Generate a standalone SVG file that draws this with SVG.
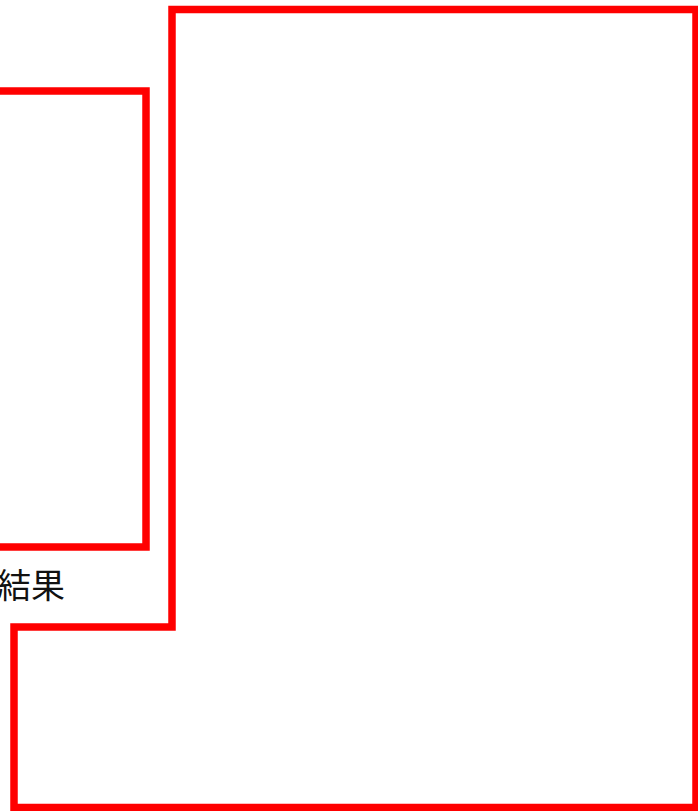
<svg xmlns="http://www.w3.org/2000/svg" width="698" height="811" viewBox="0 0 698 811">
<style>
.frame{fill:none;stroke:#ff0000;stroke-width:7.5;stroke-linejoin:miter}
.lbl{font-family:"Noto Sans CJK JP","Noto Sans",sans-serif;font-size:34px;fill:#111}
</style>
<rect width="698" height="811" fill="#ffffff"/>
<g id="node-left">
<polyline class="frame" points="-10,91 146,91 146,547 -10,547"/>
</g>
<g id="node-result-label">
<text class="lbl" x="-3" y="598">結果</text>
</g>
<g id="node-big">
<polygon class="frame" points="172,9.5 696,9.5 696,807.5 14,807.5 14,627 172,627"/>
</g>
<g id="connectors"></g>
</svg>
